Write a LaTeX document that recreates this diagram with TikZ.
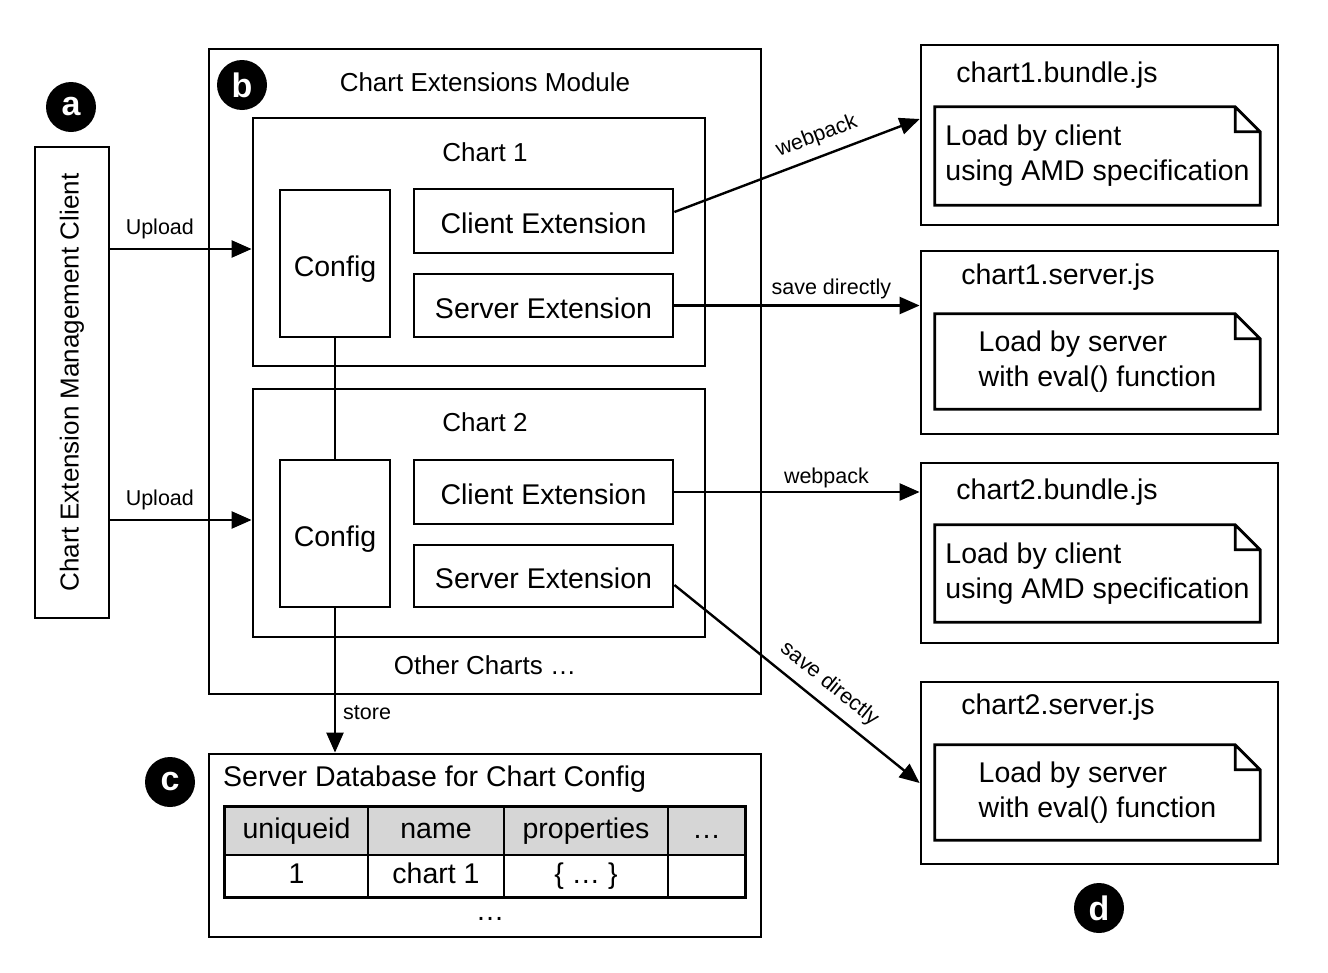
\documentclass[tikz,border=0pt]{standalone}
\usepackage{fontspec}
\setmainfont{Liberation Sans}
\usetikzlibrary{arrows.meta}
\definecolor{headgray}{RGB}{214,214,214}
\newcommand{\boxwd}{2.8pt}
\newcommand{\earsize}{25pt}
% note with folded corner, drawn round an existing node
\newcommand{\dogear}[1]{%
  \draw[line width=\boxwd] (#1.south west) -- (#1.north west)
    -- ([xshift=-\earsize]#1.north east) -- ([yshift=-\earsize]#1.north east)
    -- (#1.south east) -- cycle
    ([xshift=-\earsize]#1.north east) |- ([yshift=-\earsize]#1.north east);}

\begin{document}
\begin{tikzpicture}[x=1pt,y=-1pt,
  box/.style={draw, line width=\boxwd, inner sep=0pt},
  big/.style={inner sep=0pt, font=\fontsize{28.5}{35}\selectfont},
  mid/.style={inner sep=0pt, font=\fontsize{26}{30}\selectfont},
  lab/.style={inner sep=0pt, font=\fontsize{21.5}{24}\selectfont},
  part/.style={box, big, text height=25pt, text depth=0pt},
  cell/.style={draw, line width=1.5pt, big, text height=20pt, text depth=6pt},
  head/.style={cell, fill=headgray, minimum height=48pt},
  badge/.style={circle, fill=black, text=white, inner sep=0pt, minimum size=50pt,
    font=\fontsize{34}{34}\selectfont\bfseries},
  arr/.style={line width=2.4pt, -{Triangle[length=20pt,width=17pt]}}]

\useasboundingbox (0,0) rectangle (1328,972);

        % client
        \node (client) at (72,382.5) [box, minimum width=74pt, minimum height=471pt] {};
        \node (clienttxt) at (client.center) [mid, rotate=90] {Chart Extension Management Client};

        % module
        \node (module) at (485,371.5) [box, minimum width=552pt, minimum height=645pt] {};
        \node (moduletitle) at (485,82) [mid] {Chart Extensions Module};

        \node (chart1) at (479,242) [box, minimum width=452pt, minimum height=248pt] {};
        \node (chart1title) at (485,152) [mid] {Chart 1};
        \node (cfg1) at (335,263.5) [part, minimum width=110pt, minimum height=147pt] {Config};
        \node (cext1) at (543.5,221) [part, minimum width=259pt, minimum height=64pt] {Client Extension};
        \node (sext1) at (543.5,305.5) [part, minimum width=259pt, minimum height=63pt] {Server Extension};

        \node (chart2) at (479,513) [box, minimum width=452pt, minimum height=248pt] {};
        \node (chart2title) at (485,422) [mid] {Chart 2};
        \node (cfg2) at (335,533.5) [part, minimum width=110pt, minimum height=147pt] {Config};
        \node (cext2) at (543.5,492) [part, minimum width=259pt, minimum height=64pt] {Client Extension};
        \node (sext2) at (543.5,576) [part, minimum width=259pt, minimum height=62pt] {Server Extension};

        \node (others) at (485,665) [mid] {Other Charts …};

        % database
        \node (db) at (485,845.5) [box, minimum width=552pt, minimum height=183pt] {};
        \node (dbtitle) at (223,779) [big, anchor=west] {Server Database for Chart Config};
        \node (h1) at (296.5,831) [head, minimum width=143pt] {uniqueid};
        \node (h2) at (436,831) [head, minimum width=136pt] {name};
        \node (h3) at (586,831) [head, minimum width=164pt] {properties};
        \node (h4) at (706.5,831) [head, minimum width=77pt] {…};
        \node (r1) at (296.5,876) [cell, minimum width=143pt, minimum height=42pt] {1};
        \node (r2) at (436,876) [cell, minimum width=136pt, minimum height=42pt] {chart 1};
        \node (r3) at (586,876) [cell, minimum width=164pt, minimum height=42pt] {\{ … \}};
        \node (r4) at (706.5,876) [cell, minimum width=77pt, minimum height=42pt] {};
        \draw[line width=\boxwd] (h1.north west) rectangle (r4.south east);
        \node (more) at (490,919) [big] {…};

        % output files
        \node (out1) at (1099.5,135) [box, minimum width=357pt, minimum height=180pt] {};
        \node (out1title) at (1057,75) [big] {chart1.bundle.js};
        \node (note1) at (1097.5,156) [big, align=left, minimum width=325pt, minimum height=98pt]
          {Load by client\\using AMD specification};
        \dogear{note1}

        \node (out2) at (1099.5,342.5) [box, minimum width=357pt, minimum height=183pt] {};
        \node (out2title) at (1058,277) [big] {chart1.server.js};
        \node (note2) at (1097.5,361.5) [big, align=left, minimum width=325pt, minimum height=95pt]
          {Load by server\\with eval() function};
        \dogear{note2}

        \node (out3) at (1099.5,553) [box, minimum width=357pt, minimum height=180pt] {};
        \node (out3title) at (1057,492) [big] {chart2.bundle.js};
        \node (note3) at (1097.5,573.5) [big, align=left, minimum width=325pt, minimum height=97pt]
          {Load by client\\using AMD specification};
        \dogear{note3}

        \node (out4) at (1099.5,773) [box, minimum width=357pt, minimum height=182pt] {};
        \node (out4title) at (1058,707) [big] {chart2.server.js};
        \node (note4) at (1097.5,792.5) [big, align=left, minimum width=325pt, minimum height=95pt]
          {Load by server\\with eval() function};
        \dogear{note4}

        % badges
        \node (ba) at (71,107) [badge] {a};
        \node (bb) at (242,85) [badge] {b};
        \node (bc) at (170,782) [badge] {c};
        \node (bd) at (1099,908) [badge] {d};

        % connectors
        \coordinate (up1) at ([yshift=-7pt]chart1.west);
        \coordinate (up2) at ([yshift=-7pt]chart2.west);
        \draw[arr] (up1 -| client.east) -- (up1) node[lab, above=9pt, pos=0.35] {Upload};
        \draw[arr] (up2 -| client.east) -- (up2) node[lab, above=9pt, pos=0.35] {Upload};
        \draw[line width=2.4pt] (cfg1.south) -- (cfg2.north);
        \draw[arr] (cfg2.south) -- (cfg2.south |- db.north) node[lab, right=7pt, pos=0.72] {store};
        \draw[arr] ([yshift=9pt]cext1.east) -- ([yshift=16pt]out1.west)
          node[lab, sloped, above=9pt, pos=0.61] {webpack};
        \draw[arr] (sext1.east) -- (sext1.east -| out2.west)
          node[lab, above=5pt, pos=0.64] {save directly};
        \draw[arr] (cext2.east) -- (cext2.east -| out3.west)
          node[lab, above=3pt, pos=0.62] {webpack};
        \draw[arr] ([yshift=-9pt]sext2.east) -- ([yshift=-10pt]out4.west)
          node[lab, sloped, above=9pt, pos=0.58] {save directly};

\end{tikzpicture}
\end{document}
